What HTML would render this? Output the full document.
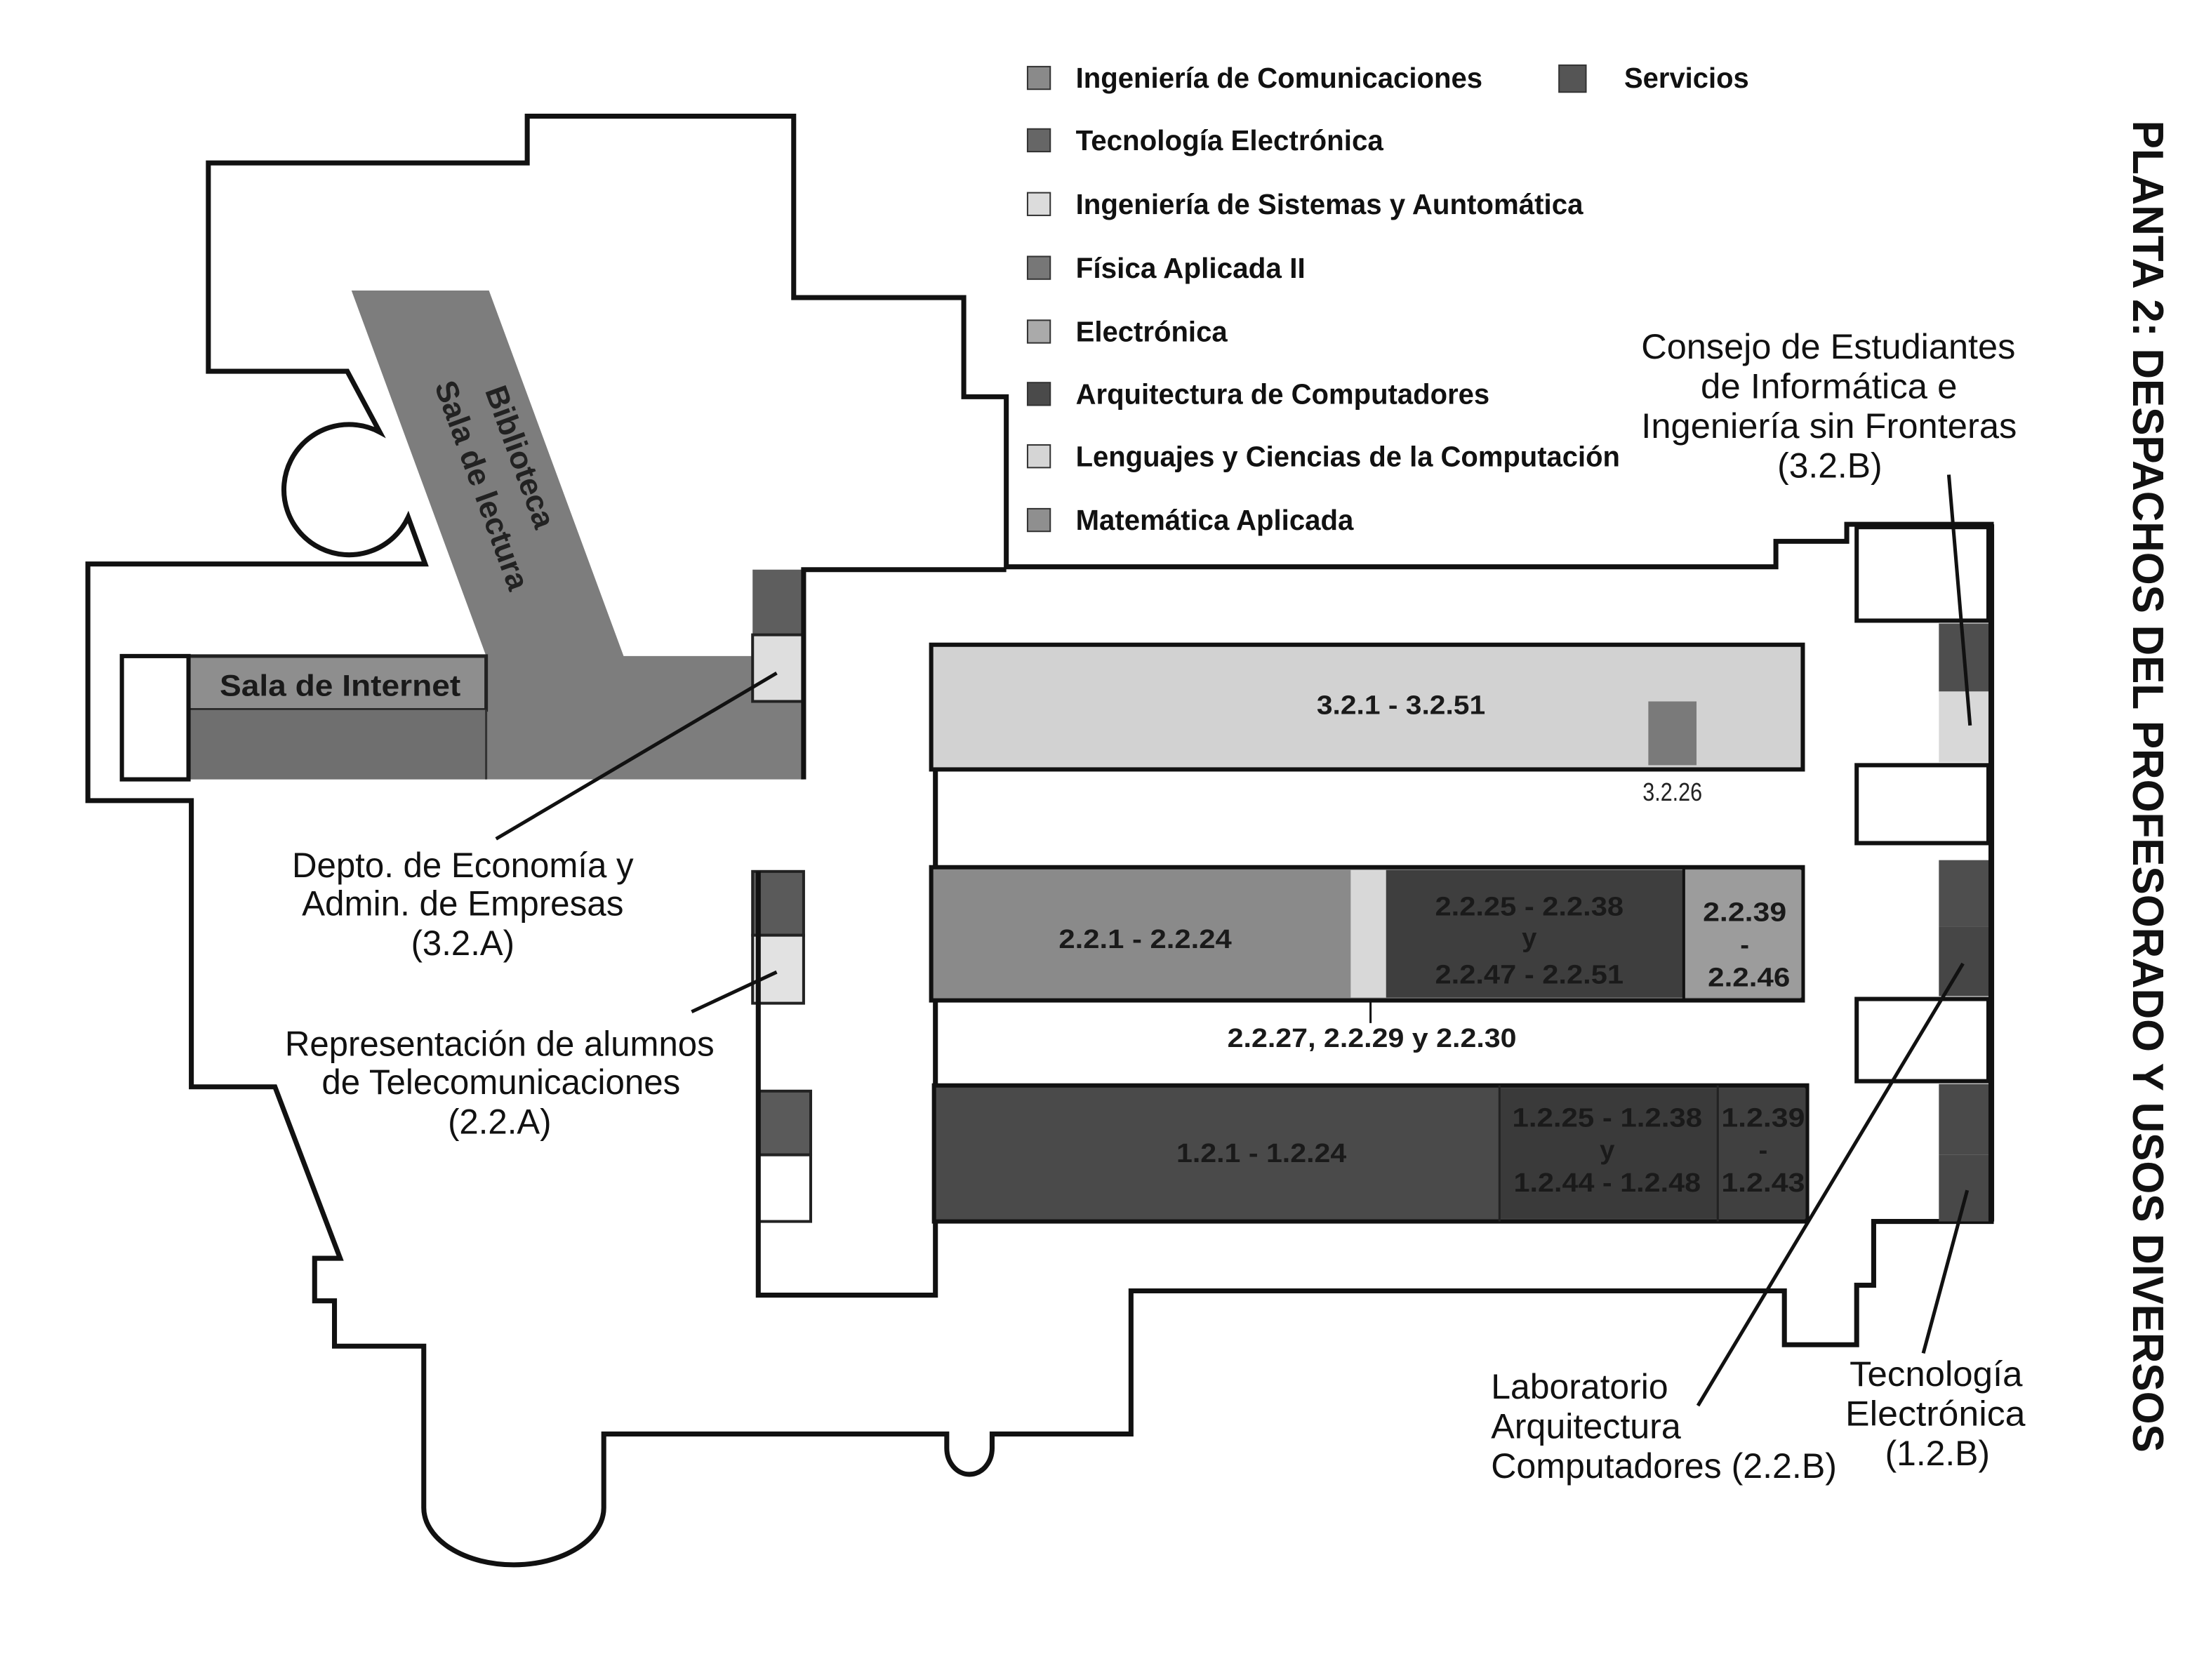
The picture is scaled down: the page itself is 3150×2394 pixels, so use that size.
<!DOCTYPE html>
<html><head><meta charset="utf-8"><style>
html,body{margin:0;padding:0;background:#fff;}
svg{display:block;}
text{font-family:"Liberation Sans",sans-serif;}
.lg{font-size:20px;font-weight:bold;fill:#111;}
.co{font-size:25px;fill:#111;}
.rm{font-size:19px;font-weight:bold;fill:#1a1a1a;}
</style></head><body>
<svg width="3150" height="2394" viewBox="0 0 1560 1185.6" xmlns="http://www.w3.org/2000/svg">
<rect x="0" y="0" width="1560" height="1185.6" fill="#fff"/>

<polygon points="248,205 345,205 440,463 567,463 567,550 133,550 133,463 343,463" fill="#7d7d7d"/>
<rect x="133" y="463" width="210" height="38" fill="#8e8e8e" stroke="#222" stroke-width="2.5"/>
<rect x="133" y="501" width="210" height="49" fill="#6f6f6f"/>
<line x1="343" y1="501" x2="343" y2="550" stroke="#333" stroke-width="1.5"/>
<rect x="86" y="463" width="47" height="87" fill="#fff" stroke="#111" stroke-width="3"/>

<rect x="531" y="402" width="36" height="46" fill="#5e5e5e"/>
<rect x="531" y="448" width="36" height="47" fill="#dedede" stroke="#222" stroke-width="2"/>
<rect x="531" y="615" width="36" height="45" fill="#5a5a5a" stroke="#222" stroke-width="2"/>
<rect x="531" y="660" width="36" height="48" fill="#e2e2e2" stroke="#222" stroke-width="2"/>
<rect x="535" y="770" width="37" height="45" fill="#5a5a5a" stroke="#222" stroke-width="2"/>
<rect x="535" y="815" width="37" height="47" fill="#fff" stroke="#222" stroke-width="2"/>

<path d="M147,115 L372,115 L372,82 L560,82 L560,210 L680,210 L680,280 L710,280 L710,400 L1253,400 L1253,382 L1303,382 L1303,370 L1405,370 L1405,862 L1322,862 L1322,907 L1310,907 L1310,949 L1259,949 L1259,911 L798,911 L798,1012 L700,1012 L700,1022 A13,15 0 0 1 668,1022 L668,1012 L426,1012 L426,1064 A63,40 0 0 1 299,1064 L299,950 L236,950 L236,918 L222,918 L222,888 L240,888 L194,767 L135,767 L135,565 L62,565 L62,398 L300,398 L288,365 A46,46 0 1 1 268,305 L245,262 L147,262 Z" fill="none" stroke="#111" stroke-width="3.5" stroke-linejoin="miter"/>
<polyline points="710,402 567,402 567,550" fill="none" stroke="#111" stroke-width="3.5"/>
<polyline points="535,615 535,914 660,914 660,543" fill="none" stroke="#111" stroke-width="3.5"/>

<rect x="657" y="455" width="615" height="88" fill="#d2d2d2" stroke="#111" stroke-width="3"/>
<rect x="1163" y="495" width="34" height="45" fill="#7a7a7a"/>
<text x="988.5" y="504" class="rm" text-anchor="middle" textLength="119" lengthAdjust="spacingAndGlyphs">3.2.1 - 3.2.51</text>
<text x="1180" y="565" font-size="18" fill="#222" text-anchor="middle" textLength="42" lengthAdjust="spacingAndGlyphs">3.2.26</text>

<rect x="657" y="612" width="615" height="94" fill="#8a8a8a" stroke="#111" stroke-width="3"/>
<rect x="953" y="614" width="25" height="90" fill="#d8d8d8"/>
<rect x="978" y="614" width="210" height="90" fill="#3e3e3e"/>
<rect x="1188" y="614" width="83" height="90" fill="#9c9c9c"/>
<line x1="1188" y1="612" x2="1188" y2="706" stroke="#111" stroke-width="2"/>
<text x="808" y="669" class="rm" text-anchor="middle" textLength="122" lengthAdjust="spacingAndGlyphs">2.2.1 - 2.2.24</text>
<text x="1079" y="646" class="rm" text-anchor="middle" fill="#555" textLength="133" lengthAdjust="spacingAndGlyphs">2.2.25 - 2.2.38</text>
<text x="1079" y="668" class="rm" text-anchor="middle" fill="#555">y</text>
<text x="1079" y="694" class="rm" text-anchor="middle" fill="#555" textLength="133" lengthAdjust="spacingAndGlyphs">2.2.47 - 2.2.51</text>
<text x="1231" y="650" class="rm" text-anchor="middle" textLength="59" lengthAdjust="spacingAndGlyphs">2.2.39</text>
<text x="1231" y="673" class="rm" text-anchor="middle">-</text>
<text x="1234" y="696" class="rm" text-anchor="middle" textLength="58" lengthAdjust="spacingAndGlyphs">2.2.46</text>
<line x1="967" y1="706" x2="967" y2="722" stroke="#111" stroke-width="1.5"/>
<text x="968" y="739" class="rm" text-anchor="middle" textLength="204" lengthAdjust="spacingAndGlyphs">2.2.27, 2.2.29 y 2.2.30</text>

<rect x="659" y="766" width="616" height="96" fill="#4a4a4a" stroke="#111" stroke-width="3"/>
<rect x="1058" y="768" width="154" height="92" fill="#3a3a3a"/>
<rect x="1212" y="768" width="62" height="92" fill="#404040"/>
<line x1="1058" y1="766" x2="1058" y2="862" stroke="#222" stroke-width="1.5"/>
<line x1="1212" y1="766" x2="1212" y2="862" stroke="#222" stroke-width="1.5"/>
<text x="890" y="820" class="rm" text-anchor="middle" fill="#2a2a2a" textLength="120" lengthAdjust="spacingAndGlyphs">1.2.1 - 1.2.24</text>
<text x="1134" y="795" class="rm" text-anchor="middle" fill="#555" textLength="134" lengthAdjust="spacingAndGlyphs">1.2.25 - 1.2.38</text>
<text x="1134" y="818" class="rm" text-anchor="middle" fill="#555">y</text>
<text x="1134" y="841" class="rm" text-anchor="middle" fill="#555" textLength="132" lengthAdjust="spacingAndGlyphs">1.2.44 - 1.2.48</text>
<text x="1244" y="795" class="rm" text-anchor="middle" fill="#555" textLength="59" lengthAdjust="spacingAndGlyphs">1.2.39</text>
<text x="1244" y="818" class="rm" text-anchor="middle" fill="#555">-</text>
<text x="1244" y="841" class="rm" text-anchor="middle" fill="#555" textLength="59" lengthAdjust="spacingAndGlyphs">1.2.43</text>

<rect x="1310" y="372" width="93" height="66" fill="#fff" stroke="#111" stroke-width="3"/>
<rect x="1368" y="440" width="36" height="48" fill="#4e4e4e"/>
<rect x="1368" y="488" width="36" height="50" fill="#d8d8d8"/>
<rect x="1310" y="540" width="93" height="55" fill="#fff" stroke="#111" stroke-width="3"/>
<rect x="1368" y="607" width="36" height="47" fill="#4e4e4e"/>
<rect x="1368" y="654" width="36" height="49" fill="#464646"/>
<rect x="1310" y="705" width="93" height="58" fill="#fff" stroke="#111" stroke-width="3"/>
<rect x="1368" y="765" width="36" height="50" fill="#4a4a4a"/>
<rect x="1368" y="815" width="36" height="47" fill="#484848"/>
<line x1="1405" y1="370" x2="1405" y2="862" stroke="#111" stroke-width="4"/>

<g transform="translate(360,325) rotate(70)"><text x="0" y="0" font-size="22" font-weight="bold" fill="#222" text-anchor="middle">Biblioteca</text></g>
<g transform="translate(333,345) rotate(70)"><text x="0" y="0" font-size="22" font-weight="bold" fill="#222" text-anchor="middle">Sala de lectura</text></g>
<text x="240" y="491" font-size="21" font-weight="bold" fill="#1a1a1a" text-anchor="middle" textLength="170" lengthAdjust="spacingAndGlyphs">Sala de Internet</text>

<g stroke="#333" stroke-width="1">
<rect x="725" y="47" width="16" height="16" fill="#8a8a8a"/>
<rect x="725" y="91" width="16" height="16" fill="#666"/>
<rect x="725" y="136" width="16" height="16" fill="#dcdcdc"/>
<rect x="725" y="181" width="16" height="16" fill="#777"/>
<rect x="725" y="226" width="16" height="16" fill="#aaa"/>
<rect x="725" y="270" width="16" height="16" fill="#4a4a4a"/>
<rect x="725" y="314" width="16" height="16" fill="#d5d5d5"/>
<rect x="725" y="359" width="16" height="16" fill="#8f8f8f"/>
<rect x="1100" y="46" width="19" height="19" fill="#555"/>
</g>
<text x="759" y="62" class="lg" textLength="287" lengthAdjust="spacingAndGlyphs">Ingeniería de Comunicaciones</text>
<text x="759" y="106" class="lg" textLength="217" lengthAdjust="spacingAndGlyphs">Tecnología Electrónica</text>
<text x="759" y="151" class="lg" textLength="358" lengthAdjust="spacingAndGlyphs">Ingeniería de Sistemas y Auntomática</text>
<text x="759" y="196" class="lg" textLength="162" lengthAdjust="spacingAndGlyphs">Física Aplicada II</text>
<text x="759" y="241" class="lg" textLength="107" lengthAdjust="spacingAndGlyphs">Electrónica</text>
<text x="759" y="285" class="lg" textLength="292" lengthAdjust="spacingAndGlyphs">Arquitectura de Computadores</text>
<text x="759" y="329" class="lg" textLength="384" lengthAdjust="spacingAndGlyphs">Lenguajes y Ciencias de la Computación</text>
<text x="759" y="374" class="lg" textLength="196" lengthAdjust="spacingAndGlyphs">Matemática Aplicada</text>
<text x="1146" y="62" class="lg" textLength="88" lengthAdjust="spacingAndGlyphs">Servicios</text>

<g transform="translate(1505,555) rotate(90)"><text x="0" y="0" font-size="31" font-weight="bold" fill="#111" text-anchor="middle" textLength="940" lengthAdjust="spacingAndGlyphs">PLANTA 2: DESPACHOS DEL PROFESORADO Y USOS DIVERSOS</text></g>

<g stroke="#111" stroke-width="2.5">
<line x1="1375" y1="335" x2="1390" y2="512"/>
<line x1="350" y1="592" x2="548" y2="475"/>
<line x1="488" y1="714" x2="548" y2="686"/>
<line x1="1198" y1="992" x2="1385" y2="680"/>
<line x1="1357" y1="955" x2="1388" y2="840"/>
</g>
<text x="1158" y="253" class="co" textLength="264" lengthAdjust="spacingAndGlyphs">Consejo de Estudiantes</text>
<text x="1200" y="281" class="co" textLength="181" lengthAdjust="spacingAndGlyphs">de Informática e</text>
<text x="1158" y="309" class="co" textLength="265" lengthAdjust="spacingAndGlyphs">Ingeniería sin Fronteras</text>
<text x="1254" y="337" class="co" textLength="74" lengthAdjust="spacingAndGlyphs">(3.2.B)</text>
<text x="206" y="619" class="co" textLength="241" lengthAdjust="spacingAndGlyphs">Depto. de Economía y</text>
<text x="213" y="646" class="co" textLength="227" lengthAdjust="spacingAndGlyphs">Admin. de Empresas</text>
<text x="290" y="674" class="co" textLength="73" lengthAdjust="spacingAndGlyphs">(3.2.A)</text>
<text x="201" y="745" class="co" textLength="303" lengthAdjust="spacingAndGlyphs">Representación de alumnos</text>
<text x="227" y="772" class="co" textLength="253" lengthAdjust="spacingAndGlyphs">de Telecomunicaciones</text>
<text x="316" y="800" class="co" textLength="73" lengthAdjust="spacingAndGlyphs">(2.2.A)</text>
<text x="1052" y="987" class="co" textLength="125" lengthAdjust="spacingAndGlyphs">Laboratorio</text>
<text x="1052" y="1015" class="co" textLength="134" lengthAdjust="spacingAndGlyphs">Arquitectura</text>
<text x="1052" y="1043" class="co" textLength="244" lengthAdjust="spacingAndGlyphs">Computadores (2.2.B)</text>
<text x="1305" y="978" class="co" textLength="122" lengthAdjust="spacingAndGlyphs">Tecnología</text>
<text x="1302" y="1006" class="co" textLength="127" lengthAdjust="spacingAndGlyphs">Electrónica</text>
<text x="1330" y="1034" class="co" textLength="74" lengthAdjust="spacingAndGlyphs">(1.2.B)</text>
</svg>
</body></html>
